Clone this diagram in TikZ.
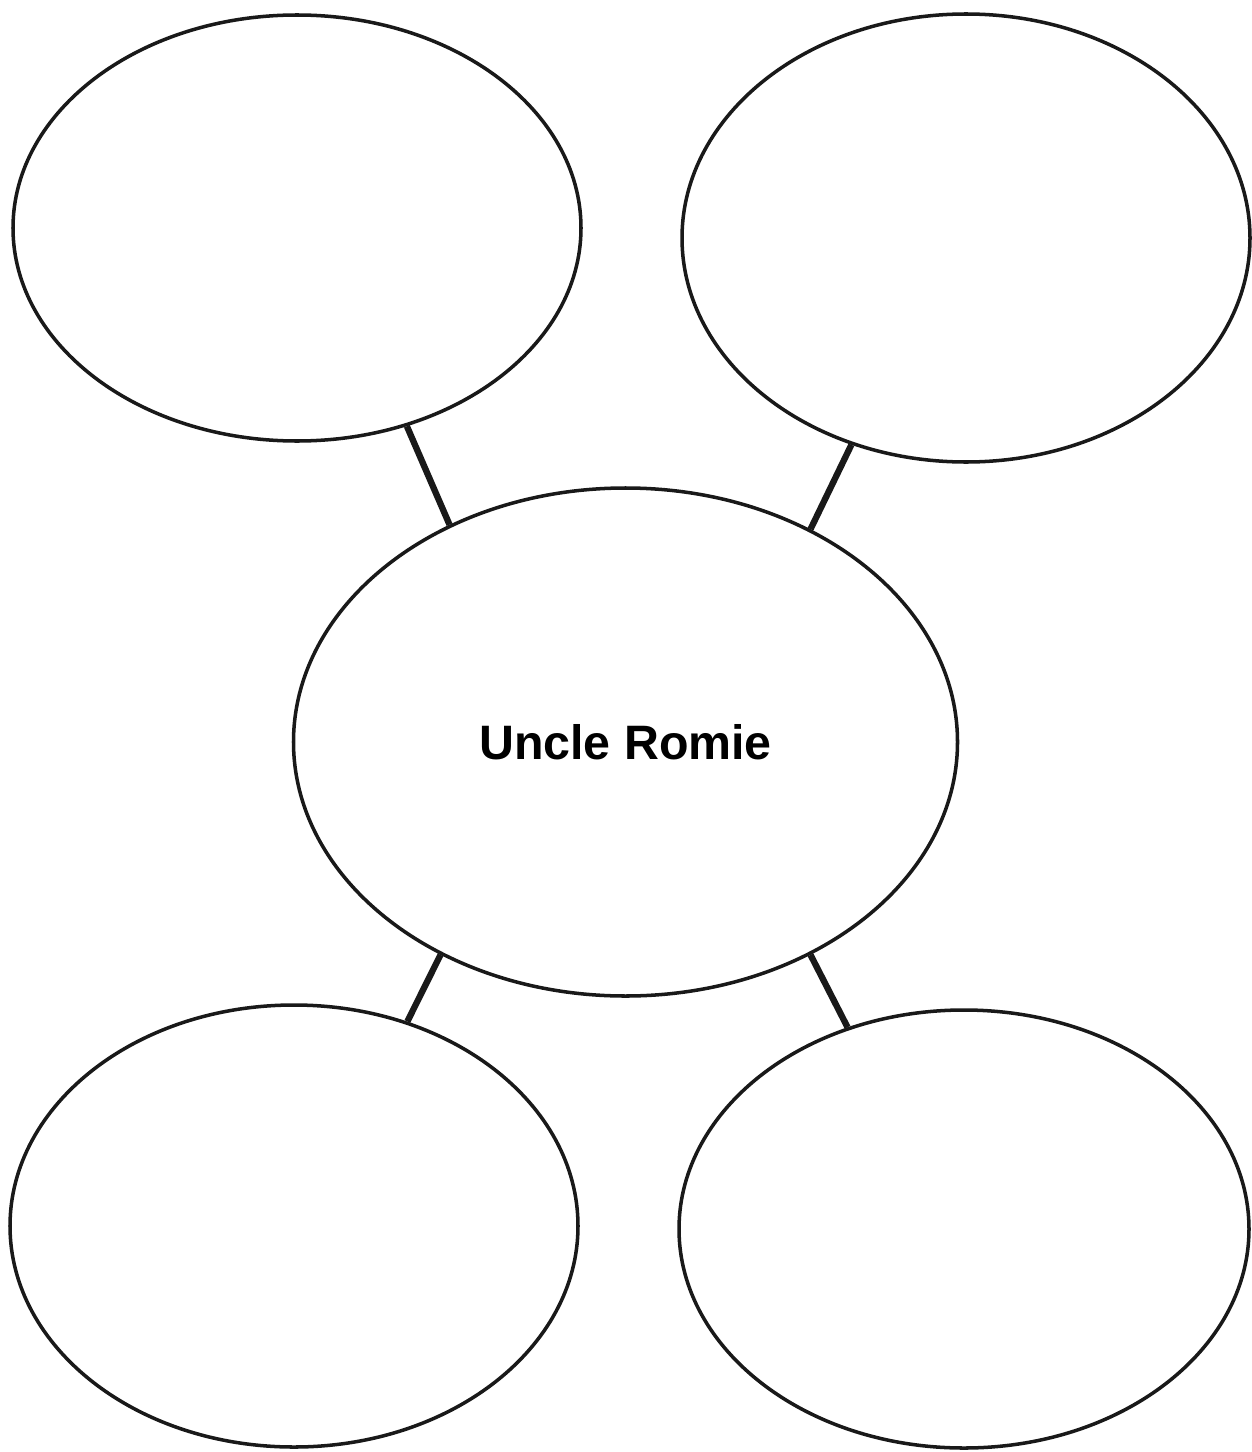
\documentclass[tikz,border=0pt]{standalone}
\usepackage{fontspec}
\setmainfont{Liberation Sans}
\usepackage{tikz}
\usetikzlibrary{shapes.geometric}

\begin{document}
\begin{tikzpicture}[
  every node/.style={font=\bfseries},
  bubble/.style={draw=black!90, ellipse, line width=2pt, inner sep=0pt},
  spoke/.style={draw=black!90, line width=3.6pt}
]
  \useasboundingbox (0,0) rectangle (25.02,-29.04);

  % Centro
  \node[bubble, minimum width=13.28cm, minimum height=10.16cm, font=\bfseries\fontsize{27.5}{30}\selectfont] (romie) at (12.51,-14.84) {Uncle Romie};

  % Quattro ovali vuoti
  \node[bubble, minimum width=11.36cm, minimum height=8.52cm] (tl) at (5.94,-4.56) {};
  \node[bubble, minimum width=11.36cm, minimum height=8.96cm] (tr) at (19.32,-4.76) {};
  \node[bubble, minimum width=11.36cm, minimum height=8.84cm] (bl) at (5.88,-24.52) {};
  \node[bubble, minimum width=11.40cm, minimum height=8.76cm] (br) at (19.28,-24.58) {};

  \draw[spoke] (tl.-61.3) -- (romie.129);
  \draw[spoke] (tr.-119.2) -- (romie.49);
  \draw[spoke] (bl.61.3) -- (romie.-131);
  \draw[spoke] (br.120.5) -- (romie.-49);

\end{tikzpicture}
\end{document}
